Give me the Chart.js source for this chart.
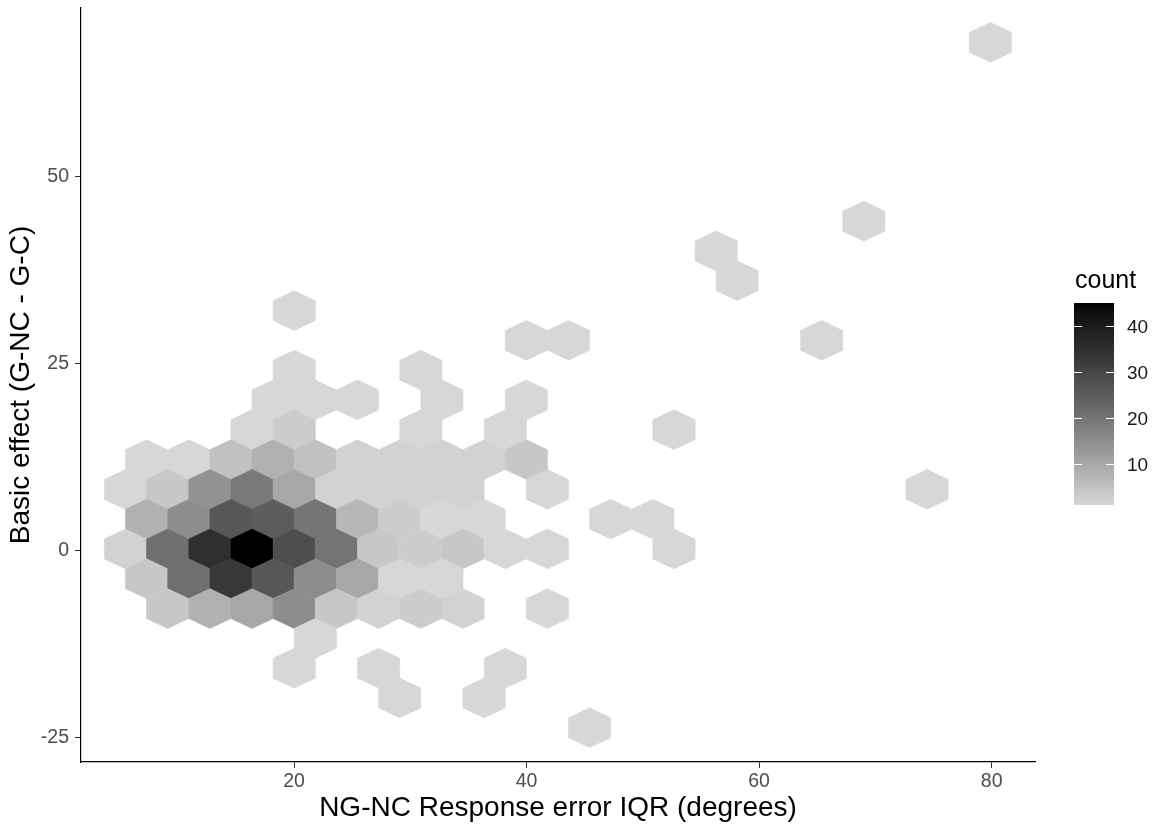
<!DOCTYPE html>
<html>
<head>
<meta charset="utf-8">
<title>Hexbin</title>
<script src="https://cdn.jsdelivr.net/npm/chart.js@4.4.1/dist/chart.umd.min.js"></script>
<style>
  html, body { margin: 0; padding: 0; background: #fff; }
</style>
</head>
<body>
<canvas id="hexchart" width="1153" height="827"></canvas>
<script>
"use strict";

// hexbin centres (x, y) and counts
var hexX = [
  79.90,
  69.01,
  56.31,
  58.12,
  20.02,
  39.98, 43.61, 65.38,
  20.02, 30.91,
  18.20, 21.83, 25.46, 32.72, 39.98,
  16.39, 20.02, 30.91, 38.17, 52.68,
  7.32, 10.95, 14.58, 18.20, 21.83, 25.46, 29.09, 32.72, 36.35, 39.98,
  5.50, 9.13, 12.76, 16.39, 20.02, 23.65, 27.28, 30.91, 34.54, 41.79, 74.45,
  7.32, 10.95, 14.58, 18.20, 21.83, 25.46, 29.09, 32.72, 36.35, 47.24, 50.87,
  5.50, 9.13, 12.76, 16.39, 20.02, 23.65, 27.28, 30.91, 34.54, 38.17, 41.79, 52.68,
  7.32, 10.95, 14.58, 18.20, 21.83, 25.46, 29.09, 32.72,
  9.13, 12.76, 16.39, 20.02, 23.65, 27.28, 30.91, 34.54, 41.79,
  21.83,
  20.02, 27.28, 38.17,
  29.09, 36.35,
  45.42
];
var hexY = [
  68.00,
  44.09,
  40.11,
  36.13,
  32.14,
  28.16, 28.16, 28.16,
  24.17, 24.17,
  20.19, 20.19, 20.19, 20.19, 20.19,
  16.21, 16.21, 16.21, 16.21, 16.21,
  12.22, 12.22, 12.22, 12.22, 12.22, 12.22, 12.22, 12.22, 12.22, 12.22,
  8.24, 8.24, 8.24, 8.24, 8.24, 8.24, 8.24, 8.24, 8.24, 8.24, 8.24,
  4.25, 4.25, 4.25, 4.25, 4.25, 4.25, 4.25, 4.25, 4.25, 4.25, 4.25,
  0.27, 0.27, 0.27, 0.27, 0.27, 0.27, 0.27, 0.27, 0.27, 0.27, 0.27, 0.27,
  -3.71, -3.71, -3.71, -3.71, -3.71, -3.71, -3.71, -3.71,
  -7.70, -7.70, -7.70, -7.70, -7.70, -7.70, -7.70, -7.70, -7.70,
  -11.68,
  -15.67, -15.67, -15.67,
  -19.65, -19.65,
  -23.63
];
var hexCount = [
  1,
  1,
  1,
  1,
  1,
  1, 1, 1,
  1, 1,
  1, 1, 1, 1, 1,
  1, 3, 1, 1, 1,
  1, 1, 5, 8, 5, 2, 2, 2, 2, 4,
  1, 4, 14, 19, 10, 2, 2, 2, 2, 1, 1,
  8, 15, 26, 25, 20, 7, 3, 1, 1, 1, 1,
  2, 21, 35, 45, 28, 20, 4, 3, 4, 1, 1, 1,
  4, 21, 33, 26, 15, 10, 1, 1,
  4, 8, 10, 15, 4, 2, 3, 2, 1,
  1,
  1, 1, 1,
  1, 1,
  1
];

var xTicks = [20, 40, 60, 80];
var yTicks = [-25, 0, 25, 50];
var countTicks = [10, 20, 30, 40];

// hex size in data units: full width in x, centre-to-vertex in y
var binW = 3.629;
var hexR = 2.656;

var countMin = Math.min.apply(null, hexCount);
var countMax = Math.max.apply(null, hexCount);

// fill scale: light grey -> black, interpolated in L*
function greyToL(g) {
  var v = g / 255;
  var lin = v <= 0.04045 ? v / 12.92 : Math.pow((v + 0.055) / 1.055, 2.4);
  return lin > 0.008856 ? 116 * Math.cbrt(lin) - 16 : 903.3 * lin;
}
var lowL = greyToL(215);
var highL = greyToL(0);

function countColor(c) {
  var t = (c - countMin) / (countMax - countMin);
  var L = lowL * (1 - t) + highL * t;
  var Y = L > 8 ? Math.pow((L + 16) / 116, 3) : L / 903.3;
  var v = Y <= 0.0031308 ? 12.92 * Y : 1.055 * Math.pow(Y, 1 / 2.4) - 0.055;
  var g = Math.round(Math.max(0, Math.min(1, v)) * 255);
  return "rgb(" + g + "," + g + "," + g + ")";
}

var FONT = "'Liberation Sans', Arial, sans-serif";

/*----------------------------------------*/
/*  hexagons + colourbar
/*----------------------------------------*/
var hexPlugin = {
  id: "hexbins",
  beforeDatasetsDraw: function (chart) {
    var ctx = chart.ctx;
    var xs = chart.scales.x, ys = chart.scales.y;
    var meta = chart.getDatasetMeta(0);
    ctx.save();
    meta.data.forEach(function (pt, i) {
      var cx = pt.x, cy = pt.y;
      var hw = Math.abs(xs.getPixelForValue(hexX[i] + binW / 2) - cx);
      var r = Math.abs(ys.getPixelForValue(hexY[i] + hexR) - cy);
      var col = countColor(hexCount[i]);
      ctx.beginPath();
      ctx.moveTo(cx, cy - r);
      ctx.lineTo(cx + hw, cy - r / 2);
      ctx.lineTo(cx + hw, cy + r / 2);
      ctx.lineTo(cx, cy + r);
      ctx.lineTo(cx - hw, cy + r / 2);
      ctx.lineTo(cx - hw, cy - r / 2);
      ctx.closePath();
      ctx.fillStyle = col;
      ctx.fill();
      ctx.strokeStyle = col;
      ctx.lineWidth = 0.6;
      ctx.stroke();
    });
    ctx.restore();
  },
  afterDraw: function (chart) {
    var ctx = chart.ctx;
    var barL = 1074, barW = 40, barTop = 303, barBot = 505;
    var pxFor = function (c) {
      return barBot - (c - countMin) / (countMax - countMin) * (barBot - barTop);
    };
    ctx.save();
    for (var y = barTop; y < barBot; y++) {
      var c = countMin + (barBot - y - 0.5) / (barBot - barTop) * (countMax - countMin);
      ctx.fillStyle = countColor(c);
      ctx.fillRect(barL, y, barW, 1);
    }
    ctx.strokeStyle = "#ffffff";
    ctx.lineWidth = 1;
    ctx.fillStyle = "#1a1a1a";
    ctx.font = "19px " + FONT;
    ctx.textAlign = "left";
    ctx.textBaseline = "middle";
    countTicks.forEach(function (v) {
      var ty = Math.round(pxFor(v)) + 0.5;
      ctx.beginPath();
      ctx.moveTo(barL, ty); ctx.lineTo(barL + 8, ty);
      ctx.moveTo(barL + barW - 8, ty); ctx.lineTo(barL + barW, ty);
      ctx.stroke();
      ctx.fillText(String(v), barL + barW + 13, ty + 1);
    });
    ctx.fillStyle = "#000000";
    ctx.font = "25px " + FONT;
    ctx.fillText("count", 1075, 281);
    ctx.restore();
  }
};

var ctx = document.getElementById("hexchart");
var hexchart = new Chart(ctx, {
  type: "scatter",
  data: {
    datasets: [{
      label: "count",
      data: hexX.map(function (x, i) { return { x: x, y: hexY[i] }; }),
      pointRadius: 0,
      pointHoverRadius: 0
    }]
  },
  options: {
    responsive: false,
    animation: false,
    events: [],
    layout: { padding: { left: 0, top: 8, right: 118, bottom: 0 } },
    plugins: {
      legend: { display: false },
      tooltip: { enabled: false }
    },
    scales: {
      x: {
        type: "linear",
        min: 1.68,
        max: 83.73,
        afterBuildTicks: function (axis) {
          axis.ticks = xTicks.map(function (v) { return { value: v }; });
        },
        afterFit: function (s) {
          s.height = 65;
          s.paddingLeft = 0; s.paddingRight = 0;
        },
        grid: { drawOnChartArea: false, drawTicks: true, tickLength: 6, color: "#333333" },
        border: { display: true, color: "#000000", width: 1.2 },
        ticks: { color: "#4d4d4d", font: { family: FONT, size: 19.5 }, padding: 2, maxRotation: 0 },
        title: {
          display: true,
          text: "NG-NC Response error IQR (degrees)",
          color: "#000000",
          font: { family: FONT, size: 28 },
          padding: { top: 0, bottom: 2 }
        }
      },
      y: {
        type: "linear",
        min: -28.21,
        max: 72.59,
        afterBuildTicks: function (axis) {
          axis.ticks = yTicks.map(function (v) { return { value: v }; });
        },
        afterFit: function (s) {
          s.width = 81;
          s.paddingTop = 0; s.paddingBottom = 0;
        },
        grid: { drawOnChartArea: false, drawTicks: true, tickLength: 6, color: "#333333" },
        border: { display: true, color: "#000000", width: 1.2 },
        ticks: { color: "#4d4d4d", font: { family: FONT, size: 19.5 }, padding: 6 },
        title: {
          display: true,
          text: "Basic effect (G-NC - G-C)",
          color: "#000000",
          font: { family: FONT, size: 28 },
          padding: { top: 4, bottom: 0 }
        }
      }
    }
  },
  plugins: [hexPlugin]
});
</script>
</body>
</html>
